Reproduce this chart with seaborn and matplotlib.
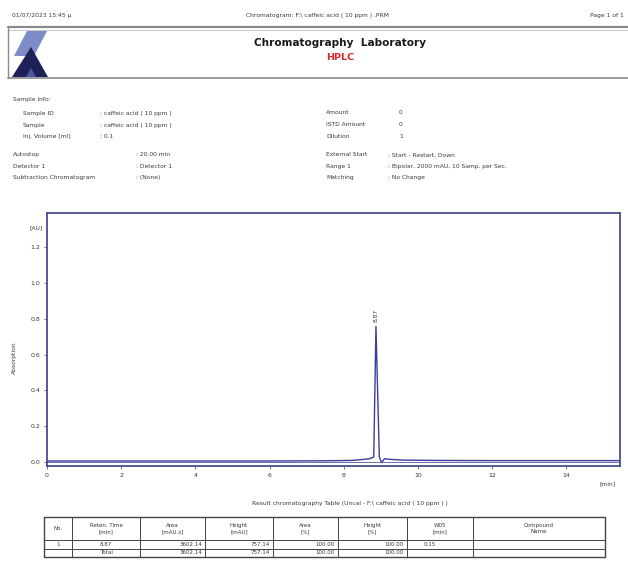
import matplotlib
matplotlib.use("Agg")
import matplotlib.pyplot as plt
import seaborn as sns
import pandas as pd
from matplotlib.patches import Polygon
from matplotlib.lines import Line2D

# ---- report data -------------------------------------------------------
header_left = "01/07/2023 15:45 \u03bc"
header_mid = "Chromatogram: F:\\ caffeic acid ( 10 ppm ) .PRM"
header_right = "Page 1 of 1"

info_left_1 = [("Sample ID", ": caffeic acid ( 10 ppm )"),
               ("Sample", ": caffeic acid ( 10 ppm )"),
               ("Inj. Volume [ml]", ": 0.1")]
info_left_2 = [("Autostop", ": 20.00 min"),
               ("Detector 1", ": Detector 1"),
               ("Subtraction Chromatogram", ": (None)")]
info_right_1 = [("Amount", "0"), ("ISTD Amount", "0"), ("Dilution", "1")]
info_right_2 = [("External Start", ": Start - Restart, Down"),
                ("Range 1", ": Bipolar, 2000 mAU, 10 Samp. per Sec."),
                ("Matching", ": No Change")]

# peak table
peak_no = ["1"]
ret_time = [8.87]
peak_area = [3602.14]
peak_height = [757.14]
area_pct = [100.00]
height_pct = [100.00]
w05 = [0.15]

# detector trace (minutes, AU); the apex comes from the tabulated height
time_min = [0.0, 2.0, 4.0, 6.0, 7.5, 8.2, 8.5, 8.7, 8.81, 8.87, 8.96, 9.02, 9.1, 9.25, 9.6, 10.5, 12.0, 14.0, 15.5]
absorb_au = [0.006, 0.006, 0.006, 0.006, 0.007, 0.009, 0.014, 0.019, 0.028,
             peak_height[0] / 1000.0,
             0.030, -0.004, 0.019, 0.015, 0.011, 0.009, 0.008, 0.008, 0.008]

x_ticks = [0, 2, 4, 6, 8, 10, 12, 14]
y_ticks = [0.0, 0.2, 0.4, 0.6, 0.8, 1.0, 1.2]

# ---- figure ------------------------------------------------------------
sns.set_theme(style="white")
plt.rcParams["font.family"] = ["DejaVu Sans"]
W, H = 628, 562
fig = plt.figure(figsize=(W / 100, H / 100), dpi=100)
fig.patch.set_facecolor("white")

def fx(x):
    return x / W

def fy(y):
    return 1 - y / H

txt = "#3a3a3a"
fs = 4.3

# page header line
fig.text(fx(12), fy(15), header_left, fontsize=fs, color=txt, va="center")
fig.text(fx(318), fy(15), header_mid, fontsize=fs, color=txt, va="center", ha="center")
fig.text(fx(590), fy(15), header_right, fontsize=fs, color=txt, va="center")

# title box
fig.add_artist(Line2D([fx(8), fx(628)], [fy(27), fy(27)], color="#8a8a8a", lw=1.6))
fig.add_artist(Line2D([fx(8), fx(628)], [fy(29.5), fy(29.5)], color="#bdbdbd", lw=0.6))
fig.add_artist(Line2D([fx(8), fx(628)], [fy(78), fy(78)], color="#8a8a8a", lw=1.2))
fig.add_artist(Line2D([fx(8), fx(8)], [fy(27), fy(78)], color="#8a8a8a", lw=1.0))

# logo
fig.add_artist(Polygon([(fx(27), fy(31)), (fx(47), fy(31)), (fx(34), fy(56)), (fx(14), fy(56))],
                       closed=True, color="#7d8cc6", lw=0))
fig.add_artist(Polygon([(fx(12), fy(77)), (fx(31), fy(47)), (fx(48), fy(77))],
                       closed=True, color="#1d2157", lw=0))
fig.add_artist(Polygon([(fx(26), fy(77)), (fx(31), fy(68)), (fx(36), fy(77))],
                       closed=True, color="#4a56a0", lw=0))

fig.text(fx(340), fy(43), "Chromatography  Laboratory", fontsize=7.6, fontweight="bold",
         color="#1a1a1a", ha="center", va="center")
fig.text(fx(340), fy(57), "HPLC", fontsize=6.8, fontweight="bold", color="#e0201c",
         ha="center", va="center")

# sample information
fig.text(fx(13), fy(100), "Sample Info:", fontsize=fs, color=txt, va="center")
for i, (k, v) in enumerate(info_left_1):
    y = 113 + i * 12
    fig.text(fx(23), fy(y), k, fontsize=fs, color=txt, va="center")
    fig.text(fx(100), fy(y), v, fontsize=fs, color=txt, va="center")
for i, (k, v) in enumerate(info_left_2):
    y = 155 + i * 11.5
    fig.text(fx(13), fy(y), k, fontsize=fs, color=txt, va="center")
    fig.text(fx(136), fy(y), v, fontsize=fs, color=txt, va="center")
for i, (k, v) in enumerate(info_right_1):
    y = 113 + i * 12
    fig.text(fx(326), fy(y), k, fontsize=fs, color=txt, va="center")
    fig.text(fx(399), fy(y), v, fontsize=fs, color=txt, va="center")
for i, (k, v) in enumerate(info_right_2):
    y = 155 + i * 11.5
    fig.text(fx(326), fy(y), k, fontsize=fs, color=txt, va="center")
    fig.text(fx(388), fy(y), v, fontsize=fs, color=txt, va="center")

# ---- chromatogram ------------------------------------------------------
ax = fig.add_axes([fx(47), fy(466), fx(620) - fx(47), fy(213) - fy(466)])
trace = pd.DataFrame({"time": time_min, "signal": absorb_au})
sns.lineplot(data=trace, x="time", y="signal", ax=ax, color="#3b3c9c", lw=1.0,
             estimator=None, sort=False)
ax.set_xlim(0, 15.45)
ax.set_ylim(-0.022, 1.39)
ax.set_xticks(x_ticks)
ax.set_xticklabels([str(t) for t in x_ticks])
ax.set_yticks(y_ticks)
ax.set_yticklabels([f"{t:.1f}" for t in y_ticks])
ax.tick_params(axis="both", labelsize=4.5, colors=txt, length=2, width=0.5,
               direction="out", pad=3)
ax.tick_params(axis="both", which="both", bottom=True, left=True)
ax.set_xlabel("")
ax.set_ylabel("")
for s in ax.spines.values():
    s.set_color("#4a4c8e")
    s.set_linewidth(1.3)
ax.axhline(0.0, color="#6a6ca8", lw=0.7)
ax.annotate(f"{ret_time[0]:.2f}", xy=(ret_time[0], peak_height[0] / 1000.0),
            xytext=(0, 3), textcoords="offset points", rotation=90,
            ha="center", va="bottom", fontsize=4.3, color=txt)

fig.text(fx(36), fy(228), "[AU]", fontsize=4.3, color=txt, ha="center", va="center")
fig.text(fx(14), fy(358), "Absorption", fontsize=4.3, color=txt, ha="center",
         va="center", rotation=90)
fig.text(fx(608), fy(484), "[min]", fontsize=4.3, color=txt, ha="center", va="center")

# ---- result table ------------------------------------------------------
fig.text(fx(350), fy(503), "Result chromatography Table (Uncal - F:\\ caffeic acid ( 10 ppm ) )",
         fontsize=fs, color=txt, ha="center", va="center")

cols = [44, 72, 140, 205, 273, 338, 407, 473, 605]
rows = [517, 540, 548.5, 557]
grid = "#444444"
for i, y in enumerate(rows):
    lw = 1.0 if i in (0, len(rows) - 1) else 0.7
    fig.add_artist(Line2D([fx(cols[0]), fx(cols[-1])], [fy(y), fy(y)], color=grid, lw=lw))
for i, x in enumerate(cols):
    lw = 1.0 if i in (0, len(cols) - 1) else 0.7
    fig.add_artist(Line2D([fx(x), fx(x)], [fy(rows[0]), fy(rows[-1])], color=grid, lw=lw))

headers = ["No.", "Reten. Time\n[min]", "Area\n[mAU.s]", "Height\n[mAU]", "Area\n[%]",
           "Height\n[%]", "W05\n[min]", "Compound\nName"]
for j, h in enumerate(headers):
    fig.text(fx((cols[j] + cols[j + 1]) / 2), fy(528.5), h, fontsize=4.0, color=txt,
             ha="center", va="center", linespacing=1.3)

r1 = (rows[1] + rows[2]) / 2
r2 = (rows[2] + rows[3]) / 2
fig.text(fx((cols[0] + cols[1]) / 2), fy(r1), peak_no[0], fontsize=4.0, color=txt, ha="center", va="center")
fig.text(fx((cols[1] + cols[2]) / 2), fy(r1), f"{ret_time[0]:.2f}", fontsize=4.0, color=txt, ha="center", va="center")
fig.text(fx((cols[1] + cols[2]) / 2), fy(r2), "Total", fontsize=4.0, color=txt, ha="center", va="center")
vals1 = [peak_area[0], peak_height[0], area_pct[0], height_pct[0]]
vals2 = [sum(peak_area), sum(peak_height), sum(area_pct), sum(height_pct)]
for k in range(4):
    right = cols[k + 3] - 3
    fig.text(fx(right), fy(r1), f"{vals1[k]:.2f}", fontsize=4.0, color=txt, ha="right", va="center")
    fig.text(fx(right), fy(r2), f"{vals2[k]:.2f}", fontsize=4.0, color=txt, ha="right", va="center")
fig.text(fx(cols[6] + 23), fy(r1), f"{w05[0]:.2f}", fontsize=4.0, color=txt, ha="center", va="center")

fig.savefig("out.png", dpi=100, facecolor="white")
